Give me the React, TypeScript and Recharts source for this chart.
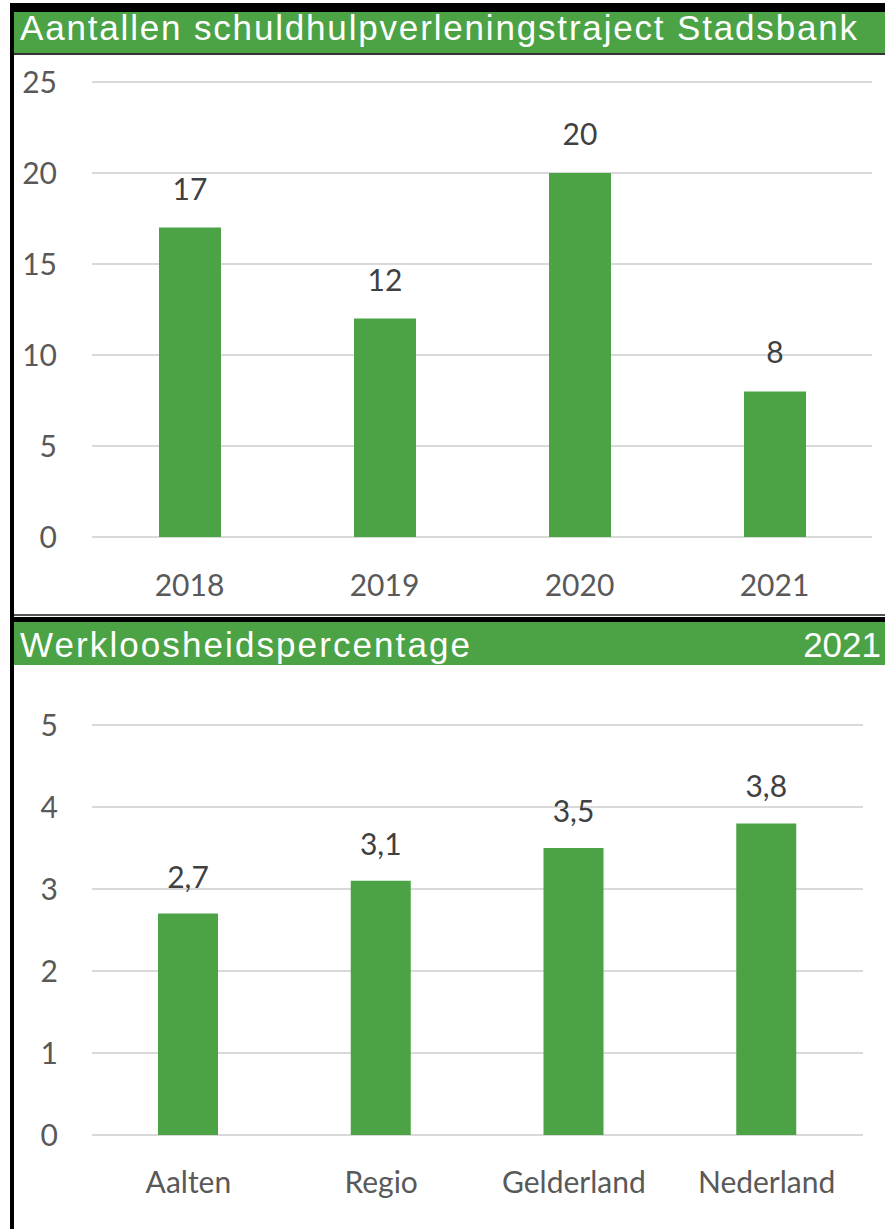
import React from "react";
import { BarChart, Bar, XAxis, YAxis, CartesianGrid, LabelList } from "recharts";

const years = ["2018", "2019", "2020", "2021"];
const trajecten = [17, 12, 20, 8];
const trajectTicks = [0, 5, 10, 15, 20, 25];

const regions = ["Aalten", "Regio", "Gelderland", "Nederland"];
const werkloosheid = [2.7, 3.1, 3.5, 3.8];
const werkTicks = [0, 1, 2, 3, 4, 5];

const title1 = "Aantallen schuldhulpverleningstraject Stadsbank";
const title2 = "Werkloosheidspercentage";
const title2Year = "2021";

const GREEN = "#4ba345";
const TICK_FONT = "Lato, 'Open Sans', sans-serif";

const data1 = years.map((y, i) => ({ name: y, value: trajecten[i] }));
const data2 = regions.map((r, i) => ({ name: r, value: werkloosheid[i] }));

const tickStyle = { fill: "#595959", fontSize: 30, fontFamily: TICK_FONT };
const labelStyle = { fill: "#404040", fontSize: 30, fontFamily: TICK_FONT };

const fmt = (v: number) => String(v).replace(".", ",");

export default function App() {
  return (
    <div
      style={{
        position: "absolute",
        left: 0,
        top: 0,
        width: 885,
        height: 1229,
        background: "#ffffff",
        overflow: "hidden",
      }}
    >
      {/* top black band */}
      <div style={{ position: "absolute", left: 10, top: 3, width: 875, height: 9, background: "#000" }} />
      {/* left border */}
      <div style={{ position: "absolute", left: 10, top: 3, width: 4, height: 1226, background: "#000" }} />

      {/* title 1 */}
      <svg style={{ position: "absolute", left: 0, top: 0 }} width={885} height={60}>
        <rect x={14} y={12} width={871} height={41} fill={GREEN} />
        <rect x={14} y={53} width={871} height={2} fill="#333" />
        <text
          x={20}
          y={40}
          fill="#fff"
          fontSize={35}
          fontFamily="'Liberation Sans', Arial, sans-serif"
          textLength={837}
          lengthAdjust="spacing"
        >
          {title1}
        </text>
      </svg>

      <div style={{ position: "absolute", left: 14, top: 56 }}>
        <BarChart
          width={871}
          height={556}
          data={data1}
          margin={{ top: 26, right: 13, bottom: 0, left: 0 }}
        >
          <CartesianGrid vertical={false} stroke="#d9d9d9" strokeWidth={2} />
          <XAxis
            dataKey="name"
            axisLine={false}
            tickLine={false}
            tickMargin={32}
            height={75}
            tick={tickStyle}
          />
          <YAxis
            domain={[0, 25]}
            ticks={trajectTicks}
            axisLine={false}
            tickLine={false}
            tickMargin={29}
            width={78}
            tick={tickStyle}
          />
          <Bar dataKey="value" fill={GREEN} barSize={62} isAnimationActive={false}>
            <LabelList dataKey="value" position="top" offset={28} style={labelStyle} />
          </Bar>
        </BarChart>
      </div>

      {/* separator + title 2 */}
      <svg style={{ position: "absolute", left: 0, top: 600 }} width={885} height={70}>
        <rect x={14} y={14} width={871} height={2} fill="#555" />
        <rect x={10} y={17} width={875} height={5} fill="#000" />
        <rect x={14} y={22} width={871} height={43} fill={GREEN} />
        <text
          x={20}
          y={57}
          fill="#fff"
          fontSize={35}
          fontFamily="'Liberation Sans', Arial, sans-serif"
          textLength={450}
          lengthAdjust="spacing"
        >
          {title2}
        </text>
        <text
          x={881}
          y={57}
          fill="#fff"
          fontSize={35}
          textAnchor="end"
          fontFamily="'Liberation Sans', Arial, sans-serif"
        >
          {title2Year}
        </text>
      </svg>

      <div style={{ position: "absolute", left: 14, top: 665 }}>
        <BarChart
          width={871}
          height={564}
          data={data2}
          margin={{ top: 60, right: 22, bottom: 0, left: 0 }}
        >
          <CartesianGrid vertical={false} stroke="#d9d9d9" strokeWidth={2} />
          <XAxis
            dataKey="name"
            axisLine={false}
            tickLine={false}
            tickMargin={31}
            height={94}
            tick={tickStyle}
          />
          <YAxis
            domain={[0, 5]}
            ticks={werkTicks}
            axisLine={false}
            tickLine={false}
            tickMargin={28}
            width={78}
            tick={tickStyle}
          />
          <Bar dataKey="value" fill={GREEN} barSize={60} isAnimationActive={false}>
            <LabelList
              dataKey="value"
              position="top"
              offset={26}
              style={labelStyle}
              formatter={(v: any) => fmt(v)}
            />
          </Bar>
        </BarChart>
      </div>
    </div>
  );
}
